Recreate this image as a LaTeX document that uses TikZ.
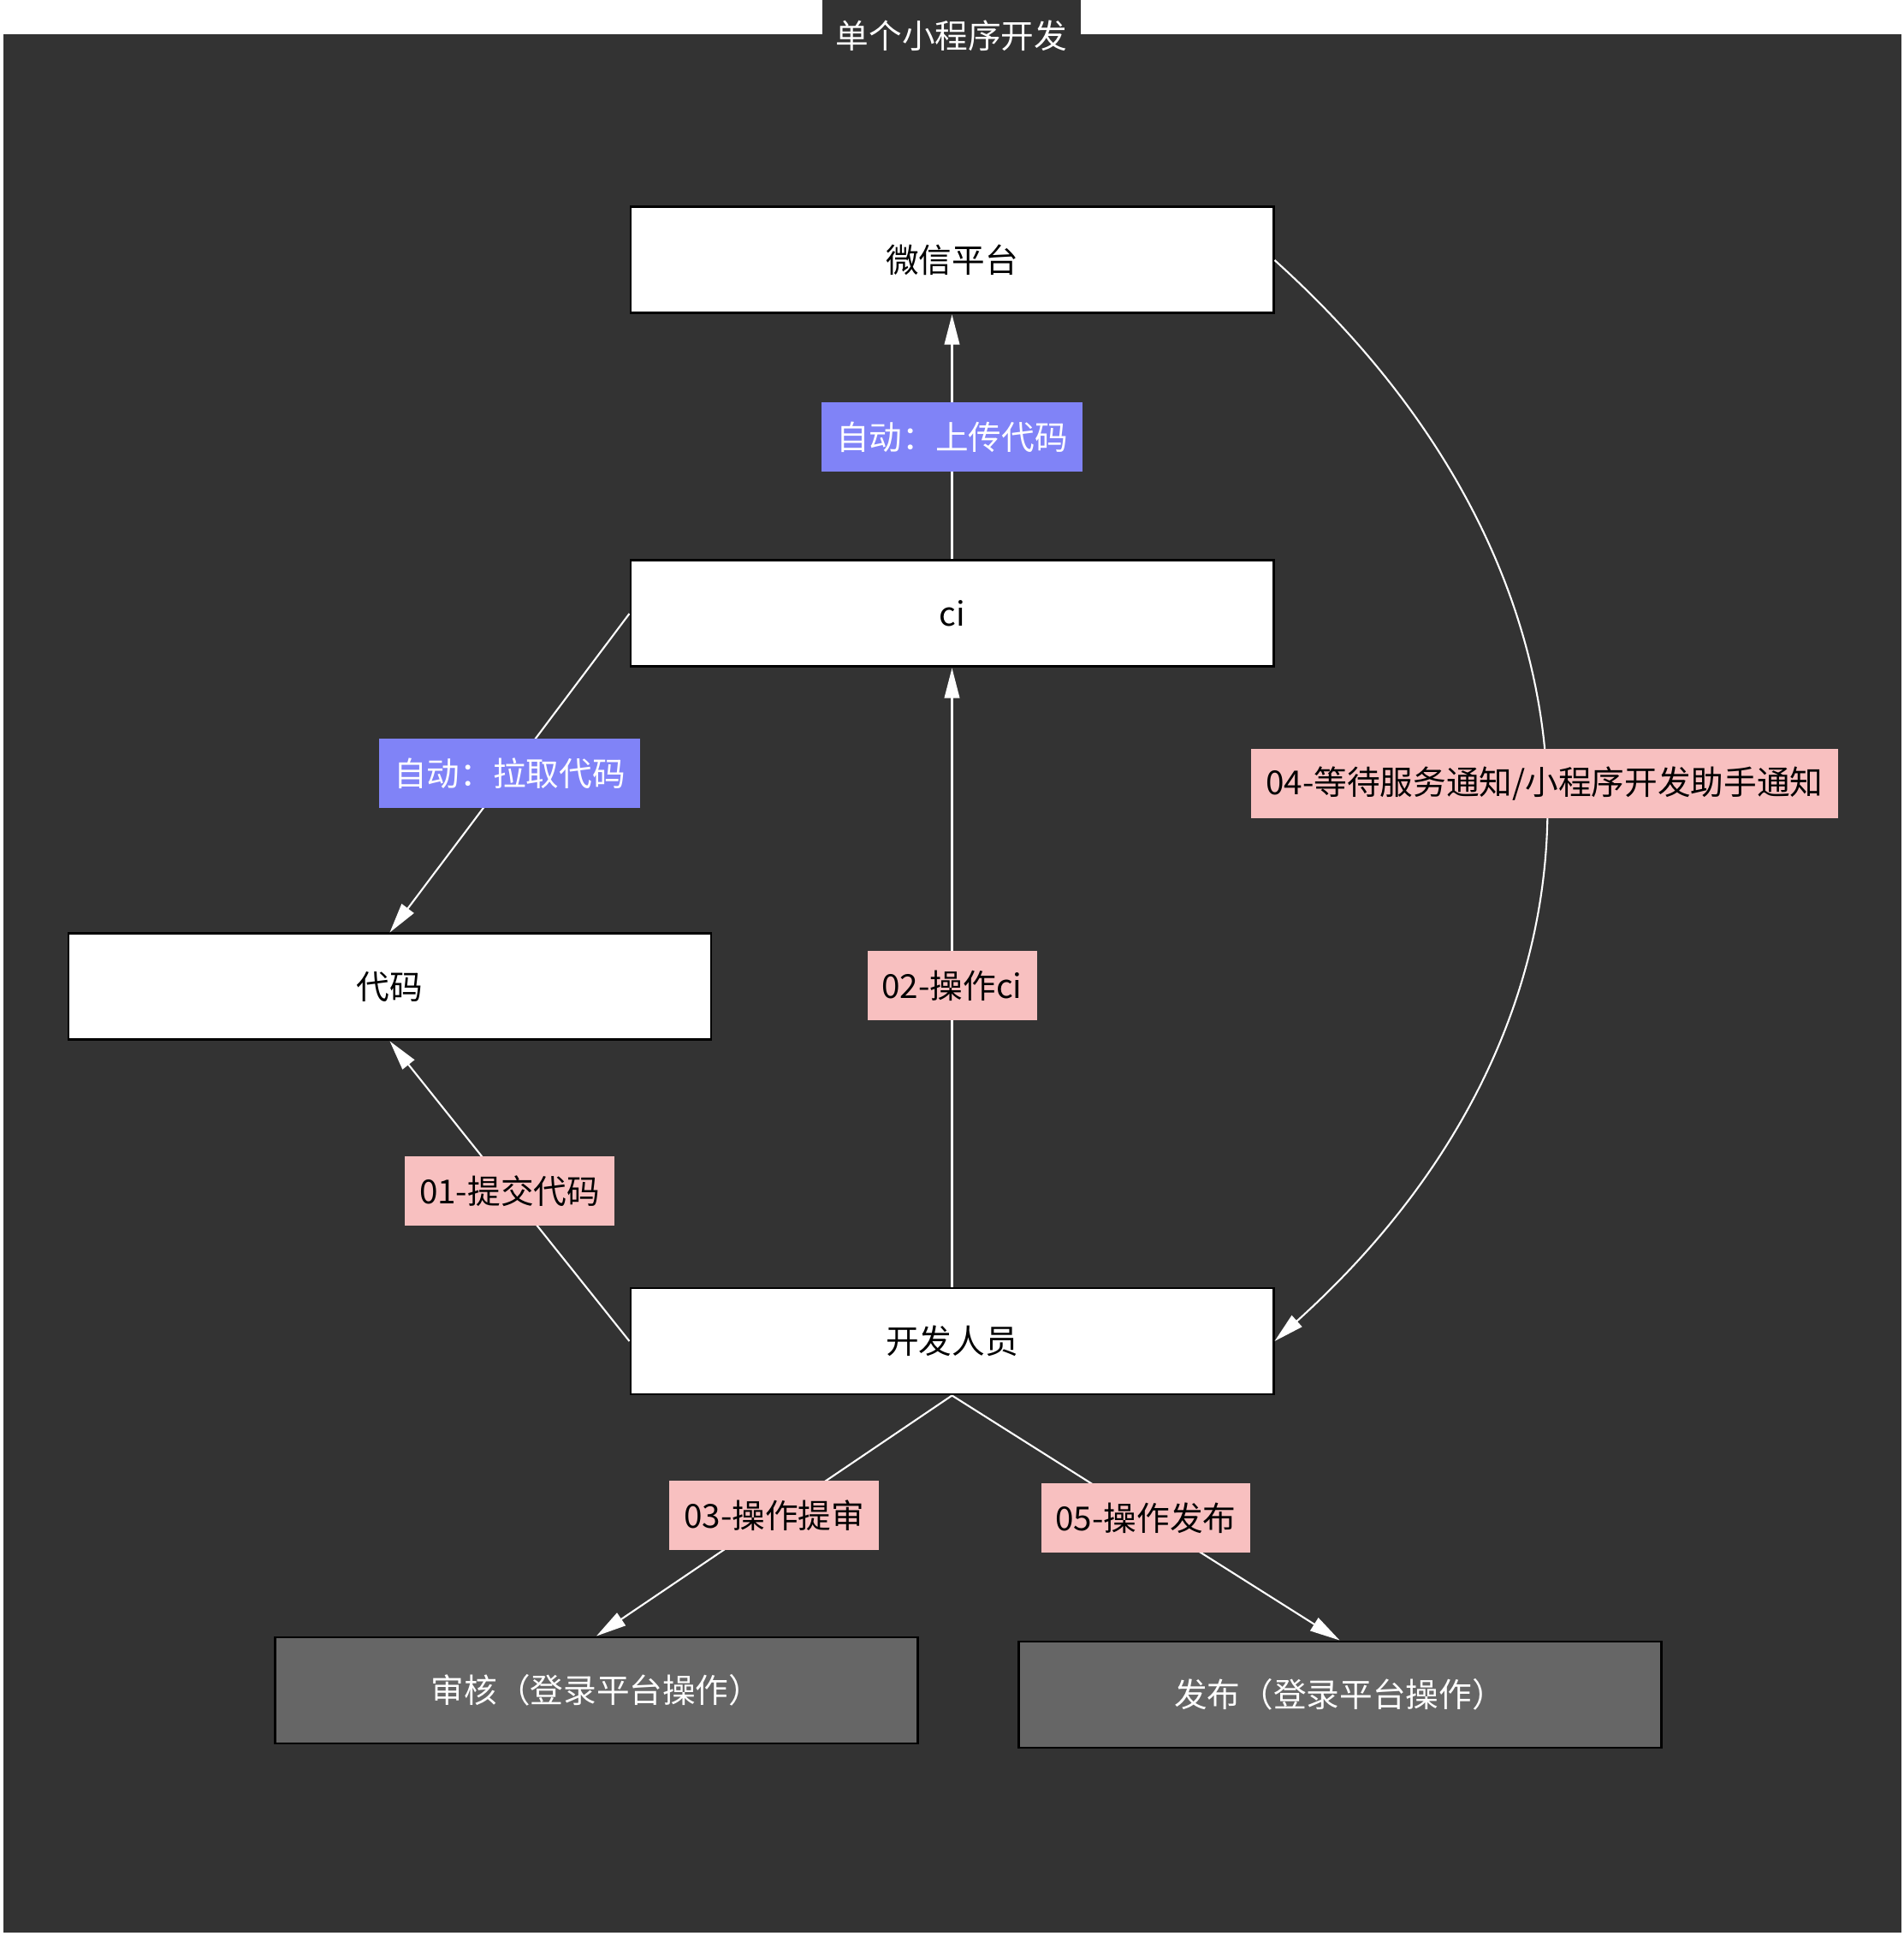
\documentclass[tikz,border=0pt]{standalone}
\usepackage{fontspec}
\setmainfont{Noto Sans CJK SC}
\usetikzlibrary{arrows.meta}
\definecolor{bgdark}{RGB}{51,51,51}
\definecolor{boxgrey}{RGB}{102,102,102}
\definecolor{autoblue}{RGB}{128,131,247}
\definecolor{steppink}{RGB}{248,192,192}

\begin{document}
\begin{tikzpicture}[
    font=\fontsize{11}{13}\selectfont,
    box/.style={draw=black, line width=0.85pt, fill=white, minimum width=7.51cm, minimum height=1.24cm, inner sep=0pt},
    manualbox/.style={box, fill=boxgrey, text=white},
    autolabel/.style={fill=autoblue, text=white, minimum height=0.81cm, inner xsep=0.17cm, inner ysep=0pt},
    steplabel/.style={fill=steppink, text=black, minimum height=0.81cm, inner xsep=0.17cm, inner ysep=0pt},
    flow/.style={draw=white, line width=0.6pt, -{Triangle[length=10pt,width=5pt]}}
]
            \useasboundingbox (0,0) rectangle (22.25,22.62);
            \fill[white] (0,0) rectangle (22.25,22.62);
            \fill[bgdark] (0.04,0.04) rectangle (22.22,22.22);
            \fill[bgdark] (9.61,22.22) rectangle (12.63,22.62);
            \node[text=white] (title) at (11.12,22.20) {单个小程序开发};

            % main column
            \node[box] (wechat) at (11.125,19.58) {微信平台};
            \node[box] (ci) at (11.125,15.45) {ci};
            \node[box] (code) at (4.555,11.09) {代码};
            \node[box] (dev) at (11.125,6.95) {开发人员};

            % manual steps on the platform
            \node[manualbox] (review) at (6.97,2.87) {审核（登录平台操作）};
            \node[manualbox] (release) at (15.655,2.82) {发布（登录平台操作）};

            % automatic steps
            \draw[flow] (ci.north) -- node[midway, autolabel] (uploadlbl) {自动：上传代码} (wechat.south);
            \draw[flow] (ci.west) -- node[midway, autolabel] (pulllbl) {自动：拉取代码} (code.north);

            % developer steps
            \draw[flow] (dev.west) -- node[midway, steplabel] (commitlbl) {01-提交代码} (code.south);
            \draw[flow] (dev.north) -- node[pos=0.487, steplabel] (cilbl) {02-操作ci} (ci.south);
            \draw[flow] (dev.south) -- node[midway, steplabel] (reviewlbl) {03-操作提审} (review.north);
            \draw[flow] (wechat.east) to[out=-42, in=42, looseness=1.15]
                node[pos=0.485, steplabel] (waitlbl) {04-等待服务通知/小程序开发助手通知} (dev.east);
            \draw[flow] (dev.south) -- node[midway, steplabel] (releaselbl) {05-操作发布} (release.north);
        \end{tikzpicture}
\end{document}
